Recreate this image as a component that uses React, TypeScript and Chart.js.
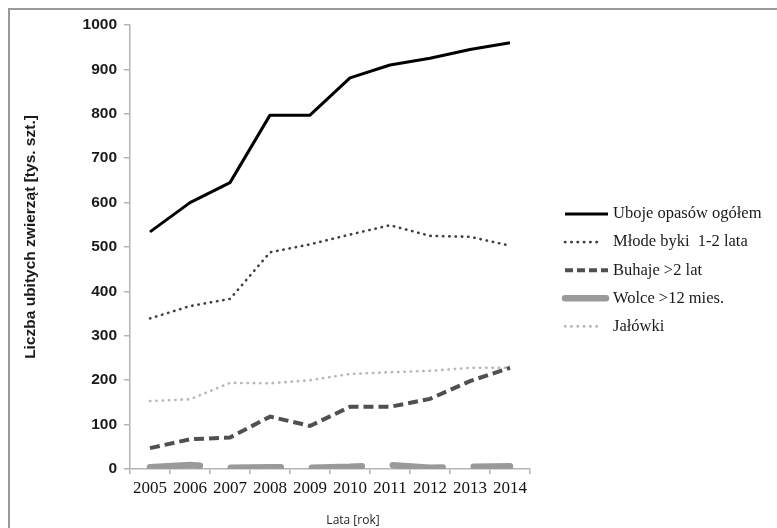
import React, { useEffect, useRef } from "react";
import { Chart, registerables } from "chart.js";

Chart.register(...registerables);

// Years on the horizontal axis
const years = ["2005", "2006", "2007", "2008", "2009", "2010", "2011", "2012", "2013", "2014"];

// Slaughter counts, thousands of head
const ubojeOgolem = [534, 600, 645, 797, 797, 881, 910, 925, 945, 960];
const mlodeByki = [339, 367, 383, 488, 506, 528, 549, 525, 523, 503];
const buhaje = [47, 67, 71, 118, 97, 140, 140, 158, 198, 228];
const wolce = [4, 9, 3, 4, 3, 5, 9, 3, 5, 6];
const jalowki = [153, 157, 194, 193, 200, 214, 218, 221, 228, 228];

const seriesNames = [
  "Uboje opasów ogółem",
  "Młode byki  1-2 lata",
  "Buhaje >2 lat",
  "Wolce >12 mies.",
  "Jałówki",
];

const yTitle = "Liczba ubitych zwierząt [tys. szt.]";
const xTitle = "Lata [rok]";

const AXIS_GREY = "#b4b4b4";

// Frame, axis titles and the legend on the right
const decorations = {
  id: "decorations",
  beforeDraw(chart: any) {
    const ctx = chart.ctx;
    ctx.save();
    ctx.fillStyle = "#ffffff";
    ctx.fillRect(0, 0, chart.width, chart.height);
    ctx.fillStyle = "#9a9a9a";
    ctx.fillRect(8, 8, chart.width - 8, 2);
    ctx.fillRect(8, 8, 2, chart.height - 8);
    ctx.restore();
  },
  afterDraw(chart: any) {
    const ctx = chart.ctx;
    const area = chart.chartArea;
    ctx.save();

    // y axis title
    ctx.translate(31, 237);
    ctx.rotate(-Math.PI / 2);
    ctx.font = "bold 15.5px 'Liberation Sans', Arial, sans-serif";
    ctx.fillStyle = "#1a1a1a";
    ctx.textAlign = "center";
    ctx.textBaseline = "middle";
    ctx.fillText(yTitle, 0, 0);
    ctx.setTransform(1, 0, 0, 1, 0, 0);

    // x axis title
    ctx.font = "12px 'Open Sans', sans-serif";
    ctx.fillStyle = "#222";
    ctx.textAlign = "center";
    ctx.textBaseline = "middle";
    ctx.fillText(xTitle, (area.left + area.right) / 2 + 23, 521);

    // legend
    const x0 = 565;
    const x1 = 608;
    const yStart = 214;
    const step = 28.1;
    chart.data.datasets.forEach((ds: any, i: number) => {
      const y = yStart + i * step;
      ctx.save();
      ctx.beginPath();
      ctx.strokeStyle = ds.borderColor;
      ctx.lineWidth = ds.borderWidth;
      ctx.lineCap = ds.borderCapStyle || "butt";
      ctx.setLineDash(ds.legendDash || ds.borderDash || []);
      ctx.moveTo(x0, y);
      ctx.lineTo(ds.legendEnd || x1, y);
      ctx.stroke();
      ctx.restore();
      ctx.font = "16.5px 'Liberation Serif', 'Times New Roman', serif";
      ctx.fillStyle = "#1a1a1a";
      ctx.textAlign = "left";
      ctx.textBaseline = "middle";
      ctx.fillText(seriesNames[i], 613, y);
    });
    ctx.restore();
  },
};

export default function App() {
  const canvasRef = useRef<HTMLCanvasElement | null>(null);

  useEffect(() => {
    const canvas = canvasRef.current;
    if (!canvas) return;
    const chart = new Chart(canvas, {
      type: "line",
      data: {
        labels: years,
        datasets: [
          {
            label: seriesNames[0],
            data: ubojeOgolem,
            borderColor: "#000000",
            borderWidth: 3,
            borderJoinStyle: "round",
            pointRadius: 0,
            tension: 0,
          },
          {
            label: seriesNames[1],
            data: mlodeByki,
            borderColor: "#404040",
            borderWidth: 2.6,
            borderCapStyle: "round",
            borderDash: [0.4, 5.9],
            legendEnd: 601,
            pointRadius: 0,
            tension: 0,
          } as any,
          {
            label: seriesNames[2],
            data: buhaje,
            borderColor: "#505050",
            borderWidth: 4,
            borderDash: [10, 5],
            legendDash: [8, 4],
            pointRadius: 0,
            tension: 0,
          } as any,
          {
            label: seriesNames[3],
            data: wolce,
            borderColor: "#9a9a9a",
            borderWidth: 6.5,
            borderCapStyle: "round",
            borderDash: [50, 31],
            legendDash: [],
            legendEnd: 606,
            pointRadius: 0,
            tension: 0,
          } as any,
          {
            label: seriesNames[4],
            data: jalowki,
            borderColor: "#b8b8b8",
            borderWidth: 2.6,
            borderCapStyle: "round",
            borderDash: [0.4, 5.9],
            legendEnd: 601,
            pointRadius: 0,
            tension: 0,
          } as any,
        ],
      },
      options: {
        animation: false,
        responsive: false,
        maintainAspectRatio: false,
        layout: { padding: { left: 0, right: 247, top: 25, bottom: 0 } },
        plugins: {
          legend: { display: false },
          tooltip: { enabled: false },
        },
        scales: {
          x: {
            type: "category",
            offset: true,
            afterFit: (scale: any) => {
              scale.height = 59;
            },
            border: { display: true, color: AXIS_GREY, width: 1.5 },
            grid: {
              offset: true,
              drawOnChartArea: false,
              drawTicks: true,
              tickLength: 5,
              color: AXIS_GREY,
              lineWidth: 1.5,
            },
            ticks: {
              autoSkip: false,
              maxRotation: 0,
              minRotation: 0,
              padding: 4,
              color: "#111",
              font: { family: "'Liberation Serif', 'Times New Roman', serif", size: 17, lineHeight: 1.2 },
            },
          },
          y: {
            min: 0,
            max: 1000,
            afterFit: (scale: any) => {
              scale.width = 130;
            },
            border: { display: true, color: AXIS_GREY, width: 1.5 },
            grid: {
              drawOnChartArea: false,
              drawTicks: true,
              tickLength: 6,
              color: AXIS_GREY,
              lineWidth: 1.5,
            },
            ticks: {
              stepSize: 100,
              padding: 7,
              color: "#1a1a1a",
              callback: (value: any) => String(value),
              font: { family: "'Liberation Sans', Arial, sans-serif", size: 15.5, weight: "bold" },
            },
          },
        },
      },
      plugins: [decorations],
    });
    return () => chart.destroy();
  }, []);

  return (
    <div style={{ position: "fixed", left: 0, top: 0, width: 777, height: 528, background: "#fff" }}>
      <canvas ref={canvasRef} width={777} height={528} style={{ display: "block" }} />
    </div>
  );
}
